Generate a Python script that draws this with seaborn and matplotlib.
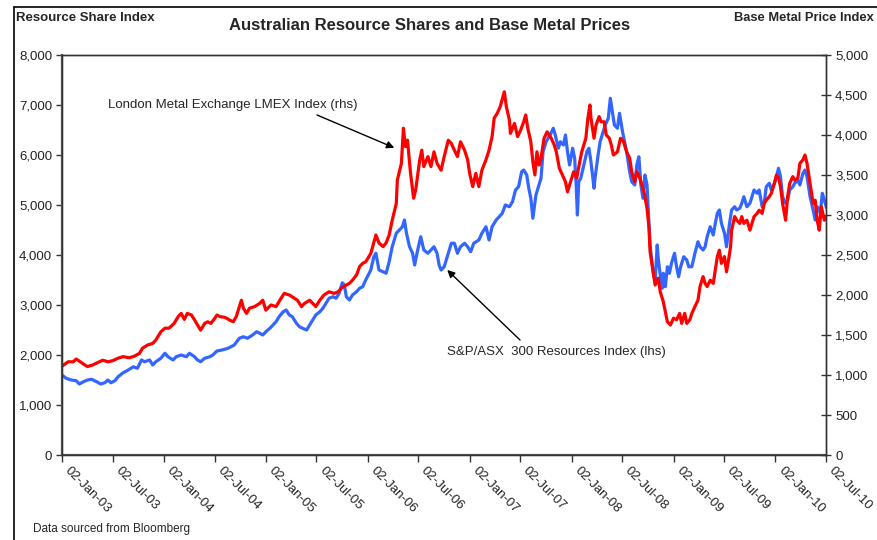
import numpy as np
import pandas as pd
import matplotlib
matplotlib.use("Agg")
import matplotlib.pyplot as plt
import seaborn as sns
from matplotlib.ticker import FuncFormatter
from matplotlib.lines import Line2D
from matplotlib.transforms import ScaledTranslation

sns.set_theme(style="white")
plt.rcParams["font.family"] = ["Liberation Sans", "DejaVu Sans"]

# ---- data: years elapsed since 02-Jan-2003, and index values ----
START = "2003-01-02"

lmex_years = [
    0.00, 0.06, 0.11, 0.14, 0.19, 0.25, 0.30, 0.35, 0.40, 0.45,
    0.50, 0.55, 0.60, 0.66, 0.71, 0.76, 0.79, 0.84, 0.89, 0.92,
    0.97, 1.01, 1.05, 1.10, 1.14, 1.17, 1.20, 1.23, 1.27, 1.30,
    1.33, 1.36, 1.40, 1.43, 1.46, 1.50, 1.52, 1.55, 1.60, 1.64,
    1.68, 1.71, 1.74, 1.76, 1.78, 1.81, 1.84, 1.89, 1.94, 1.97,
    2.00, 2.05, 2.10, 2.15, 2.18, 2.23, 2.28, 2.31, 2.35, 2.38,
    2.43, 2.46, 2.49, 2.53, 2.57, 2.62, 2.67, 2.71, 2.74, 2.79,
    2.82, 2.85, 2.89, 2.92, 2.95, 2.98, 3.03, 3.08, 3.11, 3.15,
    3.18, 3.21, 3.24, 3.28, 3.29, 3.33, 3.35, 3.37, 3.39, 3.42,
    3.45, 3.47, 3.51, 3.53, 3.55, 3.59, 3.62, 3.65, 3.68, 3.72,
    3.75, 3.79, 3.82, 3.85, 3.88, 3.91, 3.95, 3.98, 4.00, 4.03,
    4.06, 4.09, 4.12, 4.16, 4.19, 4.22, 4.24, 4.27, 4.30, 4.34,
    4.36, 4.39, 4.40, 4.44, 4.47, 4.50, 4.53, 4.55, 4.57, 4.60,
    4.62, 4.64, 4.66, 4.68, 4.70, 4.73, 4.76, 4.78, 4.80, 4.83,
    4.85, 4.88, 4.91, 4.94, 4.96, 4.99, 5.02, 5.05, 5.08, 5.10,
    5.14, 5.16, 5.18, 5.19, 5.22, 5.24, 5.27, 5.29, 5.32, 5.34,
    5.37, 5.39, 5.41, 5.45, 5.48, 5.51, 5.54, 5.57, 5.59, 5.62,
    5.64, 5.67, 5.69, 5.71, 5.74, 5.76, 5.77, 5.80, 5.82, 5.85,
    5.87, 5.90, 5.92, 5.94, 5.97, 6.00, 6.03, 6.06, 6.08, 6.11,
    6.13, 6.16, 6.18, 6.21, 6.24, 6.26, 6.29, 6.31, 6.33, 6.36,
    6.39, 6.41, 6.43, 6.45, 6.47, 6.50, 6.52, 6.54, 6.56, 6.57,
    6.60, 6.62, 6.65, 6.67, 6.69, 6.72, 6.75, 6.77, 6.79, 6.82,
    6.84, 6.87, 6.89, 6.91, 6.94, 6.96, 6.99, 7.01, 7.03, 7.05,
    7.07, 7.10, 7.12, 7.14, 7.17, 7.19, 7.22, 7.24, 7.27, 7.29,
    7.31, 7.34, 7.37, 7.39, 7.41, 7.43, 7.45, 7.48, 7.50,
]
lmex_index = [
    1110, 1165, 1165, 1200, 1155, 1105, 1125, 1155, 1185, 1165,
    1180, 1210, 1230, 1215, 1235, 1270, 1335, 1375, 1395, 1435,
    1540, 1585, 1585, 1645, 1730, 1770, 1695, 1770, 1750, 1690,
    1625, 1560, 1645, 1665, 1645, 1710, 1750, 1730, 1720, 1690,
    1665, 1730, 1855, 1935, 1835, 1770, 1835, 1855, 1895, 1935,
    1810, 1875, 1855, 1960, 2020, 2000, 1960, 1935, 1855, 1895,
    1935, 1895, 1855, 1935, 2000, 2040, 2020, 2040, 2085, 2125,
    2145, 2185, 2250, 2355, 2395, 2415, 2520, 2750, 2650, 2605,
    2650, 2750, 2935, 3145, 3435, 3645, 4085, 3855, 3935, 3520,
    3210, 3310, 3690, 3810, 3605, 3730, 3605, 3790, 3645, 3560,
    3730, 3935, 3895, 3810, 3730, 3915, 3810, 3690, 3520, 3355,
    3520, 3355, 3560, 3690, 3810, 3980, 4210, 4270, 4355, 4540,
    4355, 4185, 4020, 4145, 3980, 4060, 4165, 4250, 4085, 3915,
    3665, 3500, 3790, 3625, 3710, 3960, 4040, 4000, 3960, 3875,
    3790, 3585, 3500, 3415, 3290, 3415, 3540, 3460, 3665, 3790,
    3960, 4210, 4375, 4210, 3960, 4125, 4230, 4165, 4165, 4000,
    3960, 3875, 3750, 3790, 3960, 3915, 3790, 3710, 3540, 3415,
    3540, 3460, 3375, 3290, 3085, 2835, 2540, 2290, 2125, 2210,
    2040, 1915, 1790, 1665, 1625, 1710, 1690, 1770, 1645, 1770,
    1645, 1690, 1770, 1855, 1935, 2105, 2230, 2145, 2105, 2185,
    2145, 2310, 2480, 2560, 2395, 2480, 2290, 2435, 2605, 2810,
    2980, 2935, 2895, 2980, 2895, 2935, 2810, 2895, 2980, 3020,
    3060, 3020, 3145, 3185, 3230, 3270, 3395, 3500, 3460, 3355,
    3145, 2935, 3230, 3395, 3480, 3435, 3460, 3645, 3690, 3750,
    3645, 3395, 3145, 3185, 2935, 2810, 3105, 2935, 2980,
]

asx_years = [
    0.00, 0.04, 0.09, 0.14, 0.17, 0.21, 0.25, 0.29, 0.34, 0.38,
    0.42, 0.45, 0.48, 0.52, 0.55, 0.60, 0.65, 0.70, 0.74, 0.78,
    0.81, 0.86, 0.89, 0.92, 0.97, 1.01, 1.04, 1.09, 1.12, 1.17,
    1.22, 1.25, 1.30, 1.33, 1.36, 1.40, 1.45, 1.48, 1.52, 1.57,
    1.63, 1.69, 1.74, 1.78, 1.82, 1.87, 1.91, 1.94, 1.97, 2.00,
    2.04, 2.07, 2.10, 2.13, 2.17, 2.20, 2.23, 2.26, 2.30, 2.33,
    2.36, 2.40, 2.43, 2.46, 2.49, 2.53, 2.56, 2.59, 2.62, 2.66,
    2.69, 2.72, 2.75, 2.77, 2.79, 2.82, 2.85, 2.89, 2.92, 2.95,
    2.98, 3.03, 3.06, 3.08, 3.11, 3.15, 3.18, 3.21, 3.24, 3.28,
    3.31, 3.34, 3.36, 3.38, 3.41, 3.44, 3.46, 3.49, 3.52, 3.55,
    3.59, 3.62, 3.65, 3.68, 3.70, 3.72, 3.75, 3.78, 3.82, 3.85,
    3.88, 3.91, 3.95, 3.98, 4.01, 4.04, 4.09, 4.12, 4.16, 4.19,
    4.22, 4.26, 4.29, 4.32, 4.35, 4.39, 4.42, 4.45, 4.48, 4.51,
    4.53, 4.56, 4.58, 4.60, 4.62, 4.65, 4.67, 4.70, 4.72, 4.75,
    4.77, 4.79, 4.82, 4.84, 4.87, 4.89, 4.92, 4.94, 4.96, 4.98,
    5.01, 5.03, 5.045, 5.057, 5.07, 5.09, 5.12, 5.15, 5.17, 5.19,
    5.22, 5.23, 5.26, 5.28, 5.31, 5.33, 5.36, 5.38, 5.40, 5.42,
    5.45, 5.47, 5.50, 5.52, 5.54, 5.57, 5.59, 5.62, 5.64, 5.66,
    5.68, 5.70, 5.72, 5.74, 5.76, 5.77, 5.80, 5.82, 5.84, 5.85,
    5.87, 5.89, 5.90, 5.92, 5.94, 5.96, 5.98, 6.01, 6.03, 6.05,
    6.07, 6.10, 6.13, 6.15, 6.18, 6.21, 6.24, 6.26, 6.29, 6.31,
    6.33, 6.36, 6.39, 6.41, 6.43, 6.45, 6.47, 6.50, 6.52, 6.55,
    6.57, 6.60, 6.62, 6.65, 6.67, 6.69, 6.72, 6.75, 6.77, 6.79,
    6.82, 6.84, 6.87, 6.89, 6.91, 6.94, 6.96, 6.99, 7.01, 7.03,
    7.05, 7.07, 7.10, 7.12, 7.14, 7.17, 7.19, 7.22, 7.24, 7.27,
    7.29, 7.31, 7.34, 7.37, 7.39, 7.41, 7.44, 7.46, 7.48, 7.50,
]
asx_index = [
    1600, 1535, 1500, 1485, 1420, 1465, 1500, 1515, 1465, 1420,
    1445, 1500, 1445, 1485, 1565, 1645, 1700, 1765, 1735, 1900,
    1865, 1900, 1800, 1865, 1935, 2035, 1965, 1900, 1965, 2000,
    1965, 2035, 1965, 1900, 1865, 1935, 1965, 2000, 2080, 2100,
    2135, 2200, 2335, 2365, 2335, 2400, 2465, 2435, 2400, 2465,
    2535, 2600, 2665, 2765, 2865, 2900, 2800, 2765, 2635, 2565,
    2535, 2500, 2600, 2700, 2800, 2865, 2935, 3035, 3135, 3165,
    3135, 3235, 3445, 3400, 3165, 3100, 3200, 3265, 3335, 3365,
    3500, 3700, 3965, 4035, 3700, 3665, 3635, 3865, 4165, 4435,
    4500, 4565, 4700, 4435, 4165, 4035, 3800, 4100, 4365, 4100,
    4035, 4100, 4165, 4035, 3800, 3700, 3765, 3965, 4235, 4235,
    4035, 4165, 4235, 4165, 4065, 4235, 4300, 4435, 4565, 4300,
    4565, 4700, 4765, 4835, 5000, 4965, 5065, 5300, 5365, 5665,
    5700, 5600, 5335, 5135, 4735, 5200, 5335, 5535, 6065, 6265,
    6335, 6400, 6535, 6400, 6135, 6265, 6200, 6400, 6065, 5800,
    6135, 5935, 5400, 4800, 5465, 5535, 5800, 6065, 6135, 5865,
    5335, 5535, 6000, 6265, 6465, 6600, 6735, 7135, 6865, 6600,
    6535, 6835, 6465, 6265, 6065, 5665, 5465, 5400, 5800, 5965,
    5400, 5135, 5600, 5400, 4600, 4200, 3665, 3465, 4200, 3935,
    3600, 3335, 3635, 3365, 3765, 3635, 3835, 4035, 3765, 3565,
    3765, 3965, 3900, 3765, 3765, 4035, 4265, 4165, 4100, 4165,
    4365, 4565, 4400, 4635, 4835, 4900, 4635, 4435, 4165, 4635,
    4900, 4965, 4900, 4935, 5035, 5165, 4965, 5035, 5165, 5300,
    5235, 5300, 4965, 5035, 5365, 5435, 5300, 5435, 5565, 5735,
    5565, 5165, 5035, 5100, 5300, 5365, 5435, 5500, 5400, 5635,
    5700, 5565, 5165, 4900, 4700, 4965, 4835, 5235, 5100, 4950,
]

tick_years = list(range(2003, 2011))
left_ticks = list(range(0, 8001, 1000))
right_ticks = list(range(0, 5001, 500))


def to_dates(years):
    return pd.Timestamp(START) + pd.to_timedelta(np.asarray(years) * 365.25, unit="D")


df_lmex = pd.DataFrame({"date": to_dates(lmex_years), "value": lmex_index})
df_asx = pd.DataFrame({"date": to_dates(asx_years), "value": asx_index})

W, H = 877, 540
fig = plt.figure(figsize=(W / 100, H / 100), dpi=100)
fig.patch.set_facecolor("white")
ax = fig.add_axes([62 / W, 1 - 455 / H, (826 - 62) / W, 400 / H])
ax2 = ax.twinx()

sns.lineplot(data=df_asx, x="date", y="value", ax=ax, color="#3366FF", linewidth=2.3)
sns.lineplot(data=df_lmex, x="date", y="value", ax=ax2, color="#FF0000", linewidth=2.3)

xticks = [pd.Timestamp(f"{y}-{m:02d}-02") for y in tick_years for m in (1, 7)]
xticks = [t for t in xticks if t <= pd.Timestamp("2010-07-02")]
ax.set_xlim(pd.Timestamp(START), pd.Timestamp("2010-07-02"))
ax.set_xticks(xticks)
ax.set_xticklabels([])
label_trans = ax.get_xaxis_transform() + ScaledTranslation(9 / 100, -10 / 100,
                                                           fig.dpi_scale_trans)
for t in xticks:
    ax.text(t, 0, t.strftime("%d-%b-%y"), transform=label_trans, rotation=-45,
            ha="left", va="top", rotation_mode="anchor", fontsize=9.5,
            color="#222222", clip_on=False)

ax.set_ylim(0, 8000)
ax.set_yticks(left_ticks)
ax2.set_ylim(0, 5000)
ax2.set_yticks(right_ticks)
fmt = FuncFormatter(lambda v, p: f"{v:,.0f}")
ax.yaxis.set_major_formatter(fmt)
ax2.yaxis.set_major_formatter(fmt)

for a in (ax, ax2):
    a.set_xlabel("")
    a.set_ylabel("")
    a.grid(False)
    for s in a.spines.values():
        s.set_color("#333333")
        s.set_linewidth(1.0)
ax.spines["left"].set_color("#555555")
ax.spines["left"].set_linewidth(1.6)
ax.spines["bottom"].set_color("#555555")
ax.spines["bottom"].set_linewidth(1.6)

ax.tick_params(axis="x", direction="out", length=5, width=1, color="#333333",
               bottom=True)
ax.tick_params(axis="y", direction="out", length=4, width=1, color="#333333",
               labelsize=9.5, pad=3, left=True, labelcolor="#222222")
ax2.tick_params(axis="y", direction="inout", length=7, width=1, color="#333333",
                labelsize=9.5, pad=3, right=True, labelcolor="#222222")

# titles and labels
fig.text(16 / W, 1 - 18 / H, "Resource Share Index", fontsize=9.5, fontweight="bold",
         ha="left", va="center")
fig.text(874 / W, 1 - 18 / H, "Base Metal Price Index", fontsize=9.3, fontweight="bold",
         ha="right", va="center")
fig.text(430 / W, 1 - 26 / H, "Australian Resource Shares and Base Metal Prices",
         fontsize=12, fontweight="bold", ha="center", va="center")
fig.text(33 / W, 1 - 529 / H, "Data sourced from Bloomberg", fontsize=8.5,
         ha="left", va="center")

# annotations
fig.text(108 / W, 1 - 105 / H, "London Metal Exchange LMEX Index (rhs)", fontsize=9.5,
         ha="left", va="center")
ax2.annotate("", xy=(to_dates([3.26])[0], 3840), xycoords="data",
             xytext=(317 / W, 1 - 115 / H), textcoords="figure fraction",
             arrowprops=dict(arrowstyle="-|>", color="black", lw=1.0,
                             shrinkA=0, shrinkB=0, mutation_scale=11))
fig.text(447 / W, 1 - 352 / H, "S&P/ASX  300 Resources Index (lhs)", fontsize=9.5,
         ha="left", va="center")
ax.annotate("", xy=(to_dates([3.78])[0], 3700), xycoords="data",
            xytext=(520 / W, 1 - 340 / H), textcoords="figure fraction",
            arrowprops=dict(arrowstyle="-|>", color="black", lw=1.0,
                            shrinkA=0, shrinkB=0, mutation_scale=11))

# outer chart frame
fig.add_artist(Line2D([14 / W, 1.0], [1 - 7 / H, 1 - 7 / H], transform=fig.transFigure,
                      color="black", lw=1.2))
fig.add_artist(Line2D([14 / W, 14 / W], [0, 1 - 7 / H], transform=fig.transFigure,
                      color="black", lw=1.2))

fig.savefig("out.png", dpi=100, facecolor="white")
